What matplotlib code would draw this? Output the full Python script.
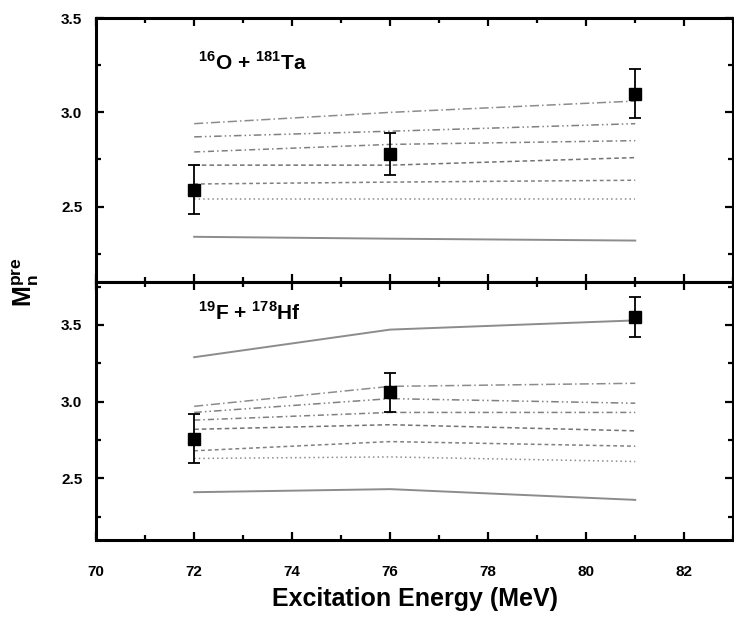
"""
Pre-scission neutron multiplicity vs excitation energy, two systems.
"""

import matplotlib
matplotlib.use("Agg")
import matplotlib.pyplot as plt
from matplotlib.ticker import MultipleLocator

plt.rcParams["font.family"] = ["Liberation Sans", "DejaVu Sans"]
plt.rcParams["font.weight"] = "bold"
plt.rcParams["mathtext.fontset"] = "custom"
plt.rcParams["mathtext.bf"] = "Liberation Sans:bold"
plt.rcParams["mathtext.rm"] = "Liberation Sans:bold"

# ─────────────────────────────────────────────────────────────────────────────
# Data
# ─────────────────────────────────────────────────────────────────────────────
energy_exp = [72, 76, 81]
energy_calc = [72, 76, 81]

# 16O + 181Ta
o_ta_exp = [2.59, 2.78, 3.10]
o_ta_err = [0.13, 0.11, 0.13]
o_ta_calc = [
    [2.94, 3.00, 3.06],
    [2.87, 2.90, 2.94],
    [2.79, 2.83, 2.85],
    [2.72, 2.72, 2.76],
    [2.62, 2.63, 2.64],
    [2.54, 2.54, 2.54],
]
o_ta_solid = [[2.34, 2.33, 2.32]]

# 19F + 178Hf
f_hf_exp = [2.76, 3.06, 3.55]
f_hf_err = [0.16, 0.13, 0.13]
f_hf_calc = [
    [2.97, 3.10, 3.12],
    [2.93, 3.02, 2.99],
    [2.88, 2.93, 2.93],
    [2.82, 2.85, 2.81],
    [2.68, 2.74, 2.71],
    [2.63, 2.64, 2.61],
]
f_hf_solid = [[3.29, 3.47, 3.53], [2.41, 2.43, 2.36]]

calc_styles = [(0, (6, 2, 1, 2)), (0, (5, 2, 1, 2, 1, 2)), (0, (4, 2, 1, 2)),
               (0, (3, 2)), (0, (2.5, 2)), (0, (1, 2))]
calc_greys = ["0.55", "0.5", "0.5", "0.45", "0.5", "0.55"]

# ─────────────────────────────────────────────────────────────────────────────
# Figure
# ─────────────────────────────────────────────────────────────────────────────
fig = plt.figure(figsize=(7.34, 6.24), dpi=100)
ax_top = fig.add_axes([0.131, 0.548, 0.868, 0.423])
ax_bot = fig.add_axes([0.131, 0.135, 0.868, 0.413])


def draw_panel(ax, exp, err, calc, solid, label, ylim, label_y):
    for vals, ls, c in zip(calc, calc_styles, calc_greys):
        ax.plot(energy_calc, vals, ls=ls, color=c, lw=1.1)
    for vals in solid:
        ax.plot(energy_calc, vals, ls="-", color="0.55", lw=1.4)
    ax.errorbar(energy_exp, exp, yerr=err, fmt="s", color="black",
                ms=8, capsize=4, elinewidth=1.3, capthick=1.3, zorder=5)
    ax.set_xlim(70, 83)
    ax.set_ylim(*ylim)
    ax.xaxis.set_major_locator(MultipleLocator(2))
    ax.xaxis.set_minor_locator(MultipleLocator(1))
    ax.yaxis.set_major_locator(MultipleLocator(0.5))
    ax.yaxis.set_minor_locator(MultipleLocator(0.25))
    ax.tick_params(which="both", direction="in", top=True, right=True,
                   width=1.6, labelsize=11)
    ax.tick_params(which="major", length=6)
    ax.tick_params(which="minor", length=3.5)
    ax.tick_params(axis="y", pad=10)
    ax.tick_params(axis="x", pad=18)
    for sp in ax.spines.values():
        sp.set_linewidth(2.2)
    ax.text(0.16, label_y, label, transform=ax.transAxes, fontsize=15,
            fontweight="bold", va="center")


draw_panel(ax_top, o_ta_exp, o_ta_err, o_ta_calc, o_ta_solid,
           r"$^{16}$O + $^{181}$Ta", (2.1, 3.5), 0.83)
draw_panel(ax_bot, f_hf_exp, f_hf_err, f_hf_calc, f_hf_solid,
           r"$^{19}$F + $^{178}$Hf", (2.1, 3.78), 0.88)

ax_top.tick_params(axis="x", labelbottom=False)

ax_bot.set_xlabel("Excitation Energy (MeV)", fontsize=18, fontweight="bold",
                  labelpad=6)
fig.text(0.035, 0.548, r"$\mathbf{M_n^{pre}}$", rotation=90, fontsize=18,
         ha="center", va="center")

plt.savefig("out.png", dpi=100)
plt.close()
